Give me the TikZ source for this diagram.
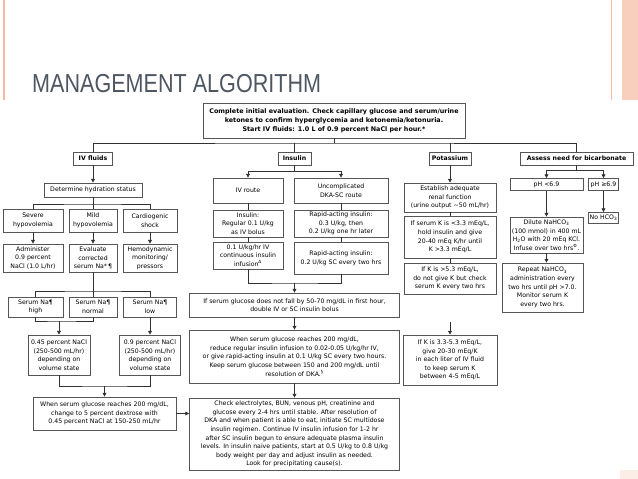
\documentclass[tikz,border=0pt]{standalone}
\usepackage{fontspec}
\usepackage{tikz}
\usetikzlibrary{arrows.meta, positioning}
\setmainfont{DejaVu Sans}
\newfontfamily\titlefont{Liberation Sans}
\definecolor{slidepeach}{RGB}{245,185,160}
\definecolor{titlegray}{RGB}{78,86,98}
\definecolor{boxgray}{RGB}{85,85,85}
\definecolor{linegray}{RGB}{50,50,50}
\newcommand{\dia}{\fontsize{6.2}{8.6}\selectfont}

\begin{document}
\begin{tikzpicture}[
    x=1pt, y=-1pt,
    box/.style={draw=boxgray, line width=0.7pt, fill=white, align=center,
                inner sep=1pt, font=\dia, text=black},
    hd/.style={box, font=\dia\bfseries},
    ln/.style={draw=linegray, line width=0.7pt},
    arr/.style={ln, -{Triangle[length=3.8pt, width=3.8pt]}},
]
    \useasboundingbox (0,0) rectangle (638,479);

    % slide frame
    \draw[slidepeach, line width=1.2pt] (4,0) -- (4,100);
    \draw[slidepeach, line width=0.8pt] (611,0) -- (611,100);
    \fill[slidepeach!70] (622,0) rectangle (638,100);
    \fill[slidepeach!25] (620,470) rectangle (638,479);

    \node[anchor=base west, text=titlegray, inner sep=0pt] (title) at (32,92)
        {\titlefont\fontsize{26}{26}\selectfont\scalebox{0.83}[1]{MANAGEMENT ALGORITHM}};

    % Row 0: start
    \node[hd, minimum width=262, minimum height=35, font=\fontsize{6.4}{9}\selectfont\bfseries] (top) at (334,120.5) {%
        Complete initial evaluation. Check capillary glucose and serum/urine\\
        ketones to confirm hyperglycemia and ketonemia/ketonuria.\\
        Start IV fluids: 1.0 L of 0.9 percent NaCl per hour.*};
    \coordinate (bus) at (334,143);

    % Row 1: headings
    \node[hd, minimum width=39, minimum height=13] (ivf) at (93,158.5) {IV fluids};
    \node[hd, minimum width=33, minimum height=13] (ins) at (294.5,158.5) {Insulin};
    \node[hd, minimum width=42, minimum height=13] (pot) at (450,158.5) {Potassium};
    \node[hd, minimum width=113, minimum height=13] (bic) at (576.5,158.5) {Assess need for bicarbonate};

    % IV fluids column
    \node[box, minimum width=98, minimum height=14] (det) at (93,190) {Determine hydration status};
    \coordinate (detbr) at (93,204);
    \node[box, minimum width=60, minimum height=23] (sev) at (33,220.5) {Severe\\hypovolemia};
    \node[box, minimum width=48, minimum height=23] (mild) at (93,220.5) {Mild\\hypovolemia};
    \node[box, minimum width=54, minimum height=23] (card) at (150,220.5) {Cardiogenic\\shock};
    \node[box, minimum width=60, minimum height=28] (adm) at (33,258) {Administer\\0.9 percent\\NaCl (1.0 L/hr)};
    \node[box, minimum width=48, minimum height=28] (eva) at (93,258) {Evaluate\\corrected\\serum Na*\,¶};
    \node[box, minimum width=54, minimum height=28] (hem) at (150,258) {Hemodynamic\\monitoring/\\pressors};
    \coordinate (nabr) at (93,291);
    \node[box, minimum width=55, minimum height=20] (nahi) at (35.5,307) {Serum Na¶\\high};
    \node[box, minimum width=48, minimum height=20] (nano) at (93,307) {Serum Na¶\\normal};
    \node[box, minimum width=53, minimum height=20] (nalo) at (150,307) {Serum Na¶\\low};
    \coordinate (hibr) at (59,321);
    \node[box, minimum width=62, minimum height=40] (nlow) at (59,355) {0.45 percent NaCl\\(250-500 mL/hr)\\depending on\\volume state};
    \node[box, minimum width=61, minimum height=40] (nnor) at (150,355) {0.9 percent NaCl\\(250-500 mL/hr)\\depending on\\volume state};
    \coordinate (dexbr) at (104.5,386);
    \node[box, minimum width=143, minimum height=33] (dex) at (104.5,413.5) {%
        When serum glucose reaches 200 mg/dL,\\
        change to 5 percent dextrose with\\
        0.45 percent NaCl at 150-250 mL/hr};

    % Insulin column
    \coordinate (insbr) at (294.5,171);
    \node[box, minimum width=70, minimum height=25] (ivr) at (248,190.5) {IV route};
    \node[box, minimum width=94, minimum height=25] (unc) at (341,190.5) {Uncomplicated\\DKA-SC route};
    \node[box, minimum width=70, minimum height=27] (reg) at (248,223.5) {Insulin:\\Regular 0.1 U/kg\\as IV bolus};
    \node[box, minimum width=94, minimum height=27] (rap1) at (341,223.5) {Rapid-acting insulin:\\0.3 U/kg, then\\0.2 U/kg one hr later};
    \node[box, minimum width=70, minimum height=27] (inf) at (248,255.5) {0.1 U/kg/hr IV\\continuous insulin\\infusion\textsuperscript{Δ}};
    \node[box, minimum width=94, minimum height=32] (rap2) at (341,258) {Rapid-acting insulin:\\0.2 U/kg SC every two hrs};
    \coordinate (dblbr) at (294.5,283);
    \node[box, minimum width=210, minimum height=24] (dbl) at (294.5,305) {%
        If serum glucose does not fall by 50-70 mg/dL in first hour,\\
        double IV or SC insulin bolus};
    \node[box, minimum width=210, minimum height=53] (red) at (294.5,356.5) {%
        When serum glucose reaches 200 mg/dL,\\
        reduce regular insulin infusion to 0.02-0.05 U/kg/hr IV,\\
        or give rapid-acting insulin at 0.1 U/kg SC every two hours.\\
        Keep serum glucose between 150 and 200 mg/dL until\\
        resolution of DKA.\textsuperscript{§}};
    \node[box, minimum width=210, minimum height=72] (chk) at (294.5,434) {%
        Check electrolytes, BUN, venous pH, creatinine and\\
        glucose every 2-4 hrs until stable. After resolution of\\
        DKA and when patient is able to eat, initiate SC multidose\\
        insulin regimen. Continue IV insulin infusion for 1-2 hr\\
        after SC insulin begun to ensure adequate plasma insulin\\
        levels. In insulin naive patients, start at 0.5 U/kg to 0.8 U/kg\\
        body weight per day and adjust insulin as needed.\\
        Look for precipitating cause(s).};

    % Potassium column
    \node[box, minimum width=92, minimum height=29] (est) at (450,197.5) {Establish adequate\\renal function\\(urine output \textasciitilde50 mL/hr)};
    \node[box, minimum width=92, minimum height=42] (klo) at (450,237) {If serum K is <3.3 mEq/L,\\hold insulin and give\\20-40 mEq K/hr until\\K >3.3 mEq/L};
    \node[box, minimum width=92, minimum height=31] (khi) at (450,278.5) {If K is >5.3 mEq/L,\\do not give K but check\\serum K every two hrs};
    \coordinate (kin) at (450,322);
    \node[box, minimum width=94, minimum height=50] (kmid) at (450,360) {If K is 3.3-5.3 mEq/L,\\give 20-30 mEq/K\\in each liter of IV fluid\\to keep serum K\\between 4-5 mEq/L};

    % Bicarbonate column
    \coordinate (bicbr) at (576.5,170);
    \node[box, minimum width=73, minimum height=12] (ph1) at (546.5,184.5) {pH <6.9};
    \node[box, minimum width=30, minimum height=12] (ph2) at (603.5,184.5) {pH ≥6.9};
    \node[box, minimum width=73, minimum height=36] (dil) at (546.5,235) {Dilute NaHCO\textsubscript{3}\\(100 mmol) in 400 mL\\H\textsubscript{2}O with 20 mEq KCl.\\Infuse over two hrs\textsuperscript{Φ}.};
    \node[box, minimum width=30, minimum height=11] (noh) at (603.5,218) {No HCO\textsubscript{3}};
    \node[box, minimum width=81, minimum height=49] (rep) at (542.5,287.5) {Repeat NaHCO\textsubscript{3}\\administration every\\two hrs until pH >7.0.\\Monitor serum K\\every two hrs.};

    % Connections: top level
    \draw[ln] (top) -- (bus);
    \draw[ln] (ivf.north) |- (bus) -| (bic.north);
    \draw[ln] (ins.north) -- (ins.north |- bus);
    \draw[ln] (pot.north) -- (pot.north |- bus);

    % IV fluids
    \draw[arr] (ivf) -- (det);
    \draw[ln] (det) -- (detbr);
    \draw[ln] (sev.north) |- (detbr) -| (card.north);
    \draw[ln] (detbr) -- (mild);
    \draw[arr] (sev) -- (adm);
    \draw[arr] (mild) -- (eva);
    \draw[arr] (card) -- (hem);
    \draw[ln] (eva) -- (nano);
    \draw[ln] (nahi.north) |- (nabr) -| (nalo.north);
    \draw[ln] (nahi.south) |- (hibr) -| (nano.south);
    \draw[arr] (hibr) -- (nlow);
    \draw[arr] (nalo) -- (nnor);
    \draw[ln] (nlow.south) |- (dexbr) -| (nnor.south);
    \draw[arr] (dexbr) -- (dex);
    \draw[arr] (dex.east) -- (dex.east -| chk.west);

    % Insulin
    \draw[ln] (ins) -- (insbr);
    \draw[arr] (insbr) -| (ivr.north);
    \draw[arr] (insbr) -| (unc.north);
    \draw[ln] (ivr) -- (reg);
    \draw[ln] (reg) -- (inf);
    \draw[ln] (unc) -- (rap1);
    \draw[ln] (rap1) -- (rap2);
    \draw[ln] (inf.south) |- (dblbr) -| (rap2.south);
    \draw[arr] (dblbr) -- (dbl);
    \draw[arr] (dbl) -- (red);
    \draw[arr] (red) -- (chk);

    % Potassium
    \draw[arr] (pot) -- (est);
    \draw[ln] (est) -- (klo);
    \draw[ln] (klo) -- (khi);
    \draw[arr] (kin) -- (kmid);

    % Bicarbonate
    \draw[ln] (bic) -- (bicbr);
    \draw[arr] (bicbr) -| (ph1.north);
    \draw[arr] (bicbr) -| (ph2.north);
    \draw[arr] (ph1) -- (dil);
    \draw[arr] (ph2) -- (noh);
    \draw[arr] (dil.south) -- (dil.south |- rep.north);
\end{tikzpicture}
\end{document}
